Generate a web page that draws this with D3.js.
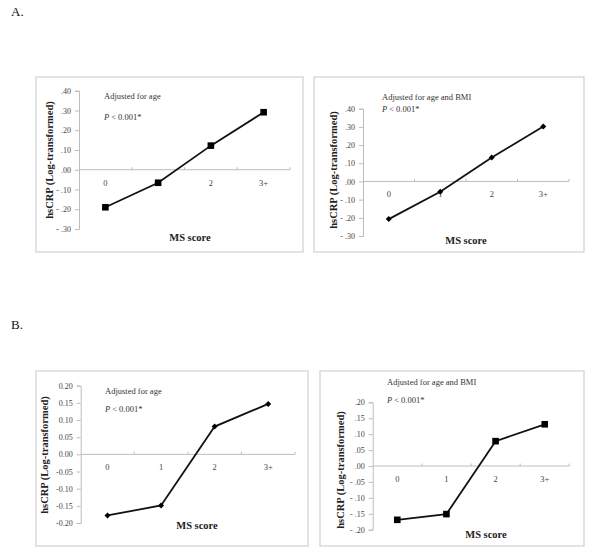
<!DOCTYPE html>
<html><head><meta charset="utf-8">
<script src="https://cdn.jsdelivr.net/npm/d3@7"></script>
<style>body{margin:0;background:#fff}svg{display:block}</style>
</head><body>
<svg id="chart" width="600" height="552"></svg>
<script>
// ---- data ----
const categories = ["0", "1", "2", "3+"];
const valuesA_age = [-0.190, -0.066, 0.122, 0.291];
const valuesA_ageBMI = [-0.207, -0.057, 0.132, 0.302];
const valuesB_age = [-0.178, -0.149, 0.081, 0.147];
const valuesB_ageBMI = [-0.169, -0.151, 0.078, 0.131];
const ticksA = [-0.30, -0.20, -0.10, 0.00, 0.10, 0.20, 0.30, 0.40];
const ticksB = [-0.20, -0.15, -0.10, -0.05, 0.00, 0.05, 0.10, 0.15, 0.20];
const titleAge = "Adjusted for age";
const titleAgeBMI = "Adjusted for age and BMI";
const pText = "< 0.001*";
const xTitle = "MS score";
const yTitle = "hsCRP (Log-transformed)";

const svg = d3.select("#chart");
const serif = "'Liberation Serif','Times New Roman',serif";

svg.append("text").attr("x", 11).attr("y", 16).attr("font-family", serif)
  .attr("font-size", 13).attr("fill", "#111").text("A.");
svg.append("text").attr("x", 11).attr("y", 329).attr("font-family", serif)
  .attr("font-size", 13).attr("fill", "#111").text("B.");

function fmtA(d){ const s = Math.abs(d).toFixed(2).replace(/^0/, ""); return (d < -1e-9 ? "- " : "") + s; }
function fmtB(d){ const s = Math.abs(d).toFixed(2); return (d < -1e-9 ? "-" : "") + s; }

function panel(o) {
  const g = svg.append("g");
  g.append("rect").attr("x", o.box[0]).attr("y", o.box[1]).attr("width", o.box[2]).attr("height", o.box[3])
    .attr("fill", "#fff").attr("stroke", "#d4d4d4").attr("stroke-width", 1.3);
  const y = d3.scaleLinear().domain(o.domain).range(o.yRange);
  const x = d3.scaleBand().domain(categories).range(o.xRange);

  // y axis
  const ya = g.append("g").attr("transform", `translate(${o.ax},0)`)
    .call(d3.axisLeft(y).tickValues(o.ticks).tickFormat(o.fmt).tickSize(4).tickPadding(4));
  ya.select(".domain").attr("stroke", "#bdbdbd");
  ya.selectAll(".tick line").attr("stroke", "#bdbdbd");
  ya.selectAll(".tick text").attr("font-family", serif).attr("font-size", 8).attr("fill", "#444");

  // x axis at zero
  const y0 = y(0);
  g.append("line").attr("x1", o.xRange[0]).attr("x2", o.xRange[1]).attr("y1", y0).attr("y2", y0)
    .attr("stroke", "#bdbdbd").attr("stroke-width", 1);
  const bounds = categories.map(c => x(c)).concat([o.xRange[1]]).slice(1);
  g.selectAll(".xt").data(bounds).join("line")
    .attr("x1", d => d).attr("x2", d => d).attr("y1", y0 - 2.5).attr("y2", y0)
    .attr("stroke", "#bdbdbd");
  g.selectAll(".xl").data(categories).join("text")
    .attr("x", d => x(d) + x.bandwidth() / 2).attr("y", y0 + 16)
    .attr("text-anchor", "middle").attr("font-family", serif).attr("font-size", 8.5).attr("fill", "#444")
    .text(d => d);

  // titles
  g.append("text").attr("x", o.tx).attr("y", o.t1y).attr("font-family", serif).attr("font-size", 8.5)
    .attr("fill", "#333").text(o.title);
  const p = g.append("text").attr("x", o.tx).attr("y", o.t2y).attr("font-family", serif).attr("font-size", 8.5)
    .attr("fill", "#333");
  p.append("tspan").attr("font-style", "italic").text("P ");
  p.append("tspan").text(pText);
  g.append("text").attr("x", o.mx).attr("y", o.my).attr("text-anchor", "middle").attr("font-family", serif)
    .attr("font-size", 10.5).attr("font-weight", "bold").attr("fill", "#222").text(xTitle);
  g.append("text").attr("transform", `translate(${o.lx},${o.ly}) rotate(-90)`).attr("text-anchor", "middle")
    .attr("font-family", serif).attr("font-size", 10.5).attr("font-weight", "bold").attr("fill", "#222").text(yTitle);

  // line
  const pts = o.values.map((v, i) => [x(categories[i]) + x.bandwidth() / 2, y(v)]);
  g.append("path").attr("d", d3.line()(pts)).attr("fill", "none").attr("stroke", "#111").attr("stroke-width", 1.8);
  if (o.marker === "square") {
    g.selectAll(".m").data(pts).join("rect")
      .attr("x", d => d[0] - 3.3).attr("y", d => d[1] - 3.3).attr("width", 6.6).attr("height", 6.6).attr("fill", "#000");
  } else {
    g.selectAll(".m").data(pts).join("path")
      .attr("d", d => `M${d[0]},${d[1]-3}L${d[0]+3},${d[1]}L${d[0]},${d[1]+3}L${d[0]-3},${d[1]}Z`).attr("fill", "#000");
  }
}

panel({box:[36,77,267,175], domain:[-0.3,0.4], yRange:[229,90.7], ax:79, xRange:[79,290], ticks:ticksA, fmt:fmtA,
  values:valuesA_age, marker:"square", title:titleAge, tx:104, t1y:99, t2y:120, mx:190, my:241, lx:53, ly:160});
panel({box:[314,77,270,175], domain:[-0.3,0.4], yRange:[236,108.7], ax:363, xRange:[363,569], ticks:ticksA, fmt:fmtA,
  values:valuesA_ageBMI, marker:"diamond", title:titleAgeBMI, tx:382, t1y:100, t2y:112, mx:466, my:244, lx:337, ly:170});
panel({box:[36,371,272,175], domain:[-0.2,0.2], yRange:[523,385.7], ax:80.7, xRange:[80.7,295], ticks:ticksB, fmt:fmtB,
  values:valuesB_age, marker:"diamond", title:titleAge, tx:105, t1y:393.5, t2y:412, mx:197, my:528.5, lx:48, ly:455});
panel({box:[320,371,264,175], domain:[-0.2,0.2], yRange:[529.7,402.3], ax:372.7, xRange:[372.7,569.3], ticks:ticksB, fmt:fmtA,
  values:valuesB_ageBMI, marker:"square", title:titleAgeBMI, tx:387, t1y:384.5, t2y:402.5, mx:486, my:538, lx:344, ly:470});
</script>
</body></html>
